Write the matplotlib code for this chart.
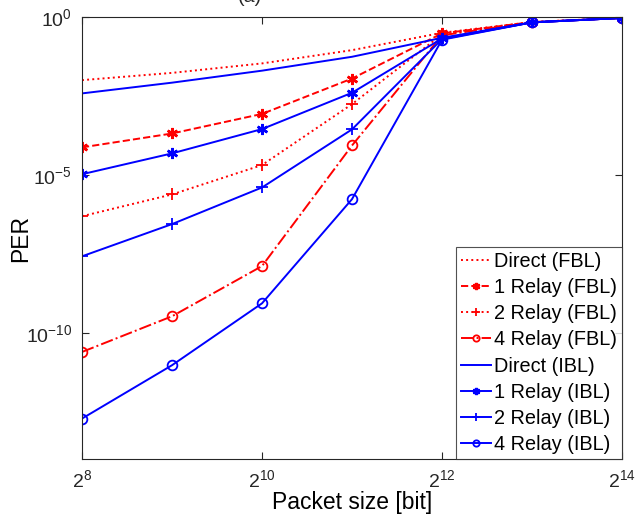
import matplotlib
matplotlib.use("Agg")
import matplotlib.pyplot as plt
import numpy as np

plt.rcParams['font.family'] = ['Liberation Sans', 'DejaVu Sans']

packet_size = [2**8, 2**9, 2**10, 2**11, 2**12, 2**13, 2**14]

# log10(PER) values
direct_fbl = [-2.00, -1.77, -1.47, -1.05, -0.50, -0.16, -0.03]
relay1_fbl = [-4.13, -3.69, -3.07, -1.95, -0.52, -0.16, -0.03]
relay2_fbl = [-6.31, -5.62, -4.69, -2.76, -0.55, -0.16, -0.03]
relay4_fbl = [-10.61, -9.48, -7.89, -4.07, -0.58, -0.17, -0.03]
direct_ibl = [-2.42, -2.08, -1.70, -1.26, -0.66, -0.17, -0.03]
relay1_ibl = [-4.98, -4.32, -3.55, -2.40, -0.68, -0.17, -0.03]
relay2_ibl = [-7.58, -6.56, -5.40, -3.56, -0.70, -0.17, -0.03]
relay4_ibl = [-12.72, -11.03, -9.07, -5.77, -0.72, -0.17, -0.03]

labels = ['Direct (FBL)', '1 Relay (FBL)', '2 Relay (FBL)', '4 Relay (FBL)',
          'Direct (IBL)', '1 Relay (IBL)', '2 Relay (IBL)', '4 Relay (IBL)']
series = [direct_fbl, relay1_fbl, relay2_fbl, relay4_fbl,
          direct_ibl, relay1_ibl, relay2_ibl, relay4_ibl]
asterisk = (6, 2, 0)
styles = [('r', ':', None), ('r', '--', asterisk), ('r', ':', '+'), ('r', '-.', 'o'),
          ('b', '-', None), ('b', '-', asterisk), ('b', '-', '+'), ('b', '-', 'o')]

fig = plt.figure(figsize=(6.37, 5.2), dpi=100)
ax = fig.add_axes([82/637, 61/520, 540/637, 442/520])

for vals, lab, (c, ls, mk) in zip(series, labels, styles):
    ax.plot(packet_size, 10**np.array(vals), color=c, linestyle=ls, marker=mk,
            markersize=7 if mk == 'o' else 8, markerfacecolor='none' if mk == 'o' else c,
            markeredgewidth=1.8 if mk is asterisk else 1.3, linewidth=1.4, label=lab)

ax.set_xscale('log', base=2)
ax.set_yscale('log')
ax.set_xlim(2**8, 2**14)
ax.set_ylim(1e-14, 1e0)
ax.set_xticks([2**8, 2**10, 2**12, 2**14])
ax.set_xticklabels([r'$\mathregular{2^{8}}$', r'$\mathregular{2^{10}}$',
                    r'$\mathregular{2^{12}}$', r'$\mathregular{2^{14}}$'])
ax.set_yticks([1e-10, 1e-5, 1e0])
ax.set_yticklabels([r'$\mathregular{10^{-10}}$', r'$\mathregular{10^{-5}}$',
                    r'$\mathregular{10^{0}}$'])
ax.minorticks_off()
ax.tick_params(direction='in', length=5, width=0.8, colors='#262626',
               labelsize=14, top=True, right=True, pad=7)
for s in ax.spines.values():
    s.set_color('#262626')
    s.set_linewidth(0.8)

ax.set_xlabel('Packet size [bit]', fontsize=16.5, labelpad=0)
ax.set_ylabel('PER', fontsize=16.5)
ax.yaxis.set_label_coords(-0.093, 0.5)
fig.text(250/637, 1.005, '(a)', ha='center', va='center', fontsize=14, color='#262626')

leg = ax.legend(loc='lower right', fontsize=14.3, frameon=True, fancybox=False,
                edgecolor='#262626', borderaxespad=0, handlelength=1.5,
                handletextpad=0.15, labelspacing=0.36, borderpad=0.25, markerscale=0.65)
leg.get_frame().set_linewidth(0.8)

fig.savefig('out.png', dpi=100)
